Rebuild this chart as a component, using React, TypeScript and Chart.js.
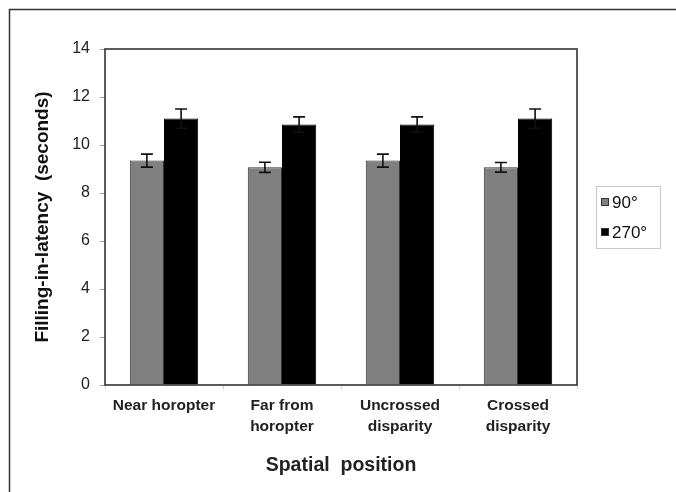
import React, { useEffect, useRef } from "react";
import { Chart, registerables } from "chart.js";

Chart.register(...registerables);

const categories: (string | string[])[] = [
  "Near horopter",
  ["Far from", "horopter"],
  ["Uncrossed", "disparity"],
  ["Crossed", "disparity"],
];
const seriesLabels = ["90°", "270°"];
const values90 = [9.35, 9.07, 9.35, 9.07];
const errors90 = [0.27, 0.21, 0.27, 0.2];
const values270 = [11.1, 10.85, 10.85, 11.1];
const errors270 = [0.4, 0.32, 0.32, 0.4];
const yTicks = [0, 2, 4, 6, 8, 10, 12, 14];

const FONT = "'Liberation Sans', Arial, Helvetica, sans-serif";

const errorBarPlugin = {
  id: "errorBars",
  afterDatasetsDraw(chart: any) {
    const ctx = chart.ctx;
    const yScale = chart.scales.y;
    chart.data.datasets.forEach((ds: any, di: number) => {
      const meta = chart.getDatasetMeta(di);
      const errs: number[] = ds.errors || [];
      meta.data.forEach((bar: any, i: number) => {
        const v = ds.data[i];
        const e = errs[i];
        const x = bar.x;
        const yT = yScale.getPixelForValue(v + e);
        const yB = yScale.getPixelForValue(v - e);
        ctx.save();
        ctx.strokeStyle = "#111";
        ctx.lineWidth = 1.6;
        ctx.beginPath();
        ctx.moveTo(x, yT);
        ctx.lineTo(x, yB);
        ctx.moveTo(x - 6, yT);
        ctx.lineTo(x + 6, yT);
        ctx.moveTo(x - 6, yB);
        ctx.lineTo(x + 6, yB);
        ctx.stroke();
        ctx.restore();
      });
    });
  },
};

const framePlugin = {
  id: "frame",
  beforeDraw(chart: any) {
    const ctx = chart.ctx;
    ctx.save();
    ctx.fillStyle = "#fff";
    ctx.fillRect(0, 0, chart.width, chart.height);
    ctx.strokeStyle = "#333";
    ctx.lineWidth = 1.5;
    ctx.beginPath();
    ctx.moveTo(9.5, chart.height);
    ctx.lineTo(9.5, 9.5);
    ctx.lineTo(chart.width, 9.5);
    ctx.stroke();
    ctx.restore();
  },
  afterDraw(chart: any) {
    const ctx = chart.ctx;
    const a = chart.chartArea;
    ctx.save();
    ctx.strokeStyle = "#333";
    ctx.lineWidth = 1.6;
    ctx.strokeRect(a.left, a.top, a.right - a.left, a.bottom - a.top);
    // legend
    const bx = 596, by = 186, bw = 64, bh = 62;
    ctx.strokeStyle = "#c8c8c8";
    ctx.lineWidth = 1;
    ctx.strokeRect(bx + 0.5, by + 0.5, bw, bh);
    ctx.font = `17px ${FONT}`;
    ctx.textBaseline = "middle";
    ctx.textAlign = "left";
    chart.data.datasets.forEach((ds: any, i: number) => {
      const cy = 202 + i * 30;
      ctx.fillStyle = ds.backgroundColor;
      ctx.fillRect(601, cy - 4, 8, 8);
      ctx.strokeStyle = "#333";
      ctx.strokeRect(601.5, cy - 3.5, 7, 7);
      ctx.fillStyle = "#111";
      ctx.fillText(ds.label, 612, cy + 1);
    });
    ctx.restore();
  },
};

export default function App() {
  const ref = useRef<HTMLCanvasElement | null>(null);
  useEffect(() => {
    if (!ref.current) return;
    const chart = new Chart(ref.current, {
      type: "bar",
      data: {
        labels: categories,
        datasets: [
          {
            label: seriesLabels[0],
            data: values90,
            errors: errors90,
            backgroundColor: "#808080",
            borderColor: "#333",
            borderWidth: 1,
          } as any,
          {
            label: seriesLabels[1],
            data: values270,
            errors: errors270,
            backgroundColor: "#000000",
            borderColor: "#000",
            borderWidth: 1,
          } as any,
        ],
      },
      options: {
        animation: false,
        responsive: false,
        devicePixelRatio: 1,
        layout: { padding: { top: 49, right: 99, left: 0, bottom: 0 } },
        datasets: { bar: { categoryPercentage: 0.58, barPercentage: 1 } },
        plugins: {
          legend: { display: false },
          tooltip: { enabled: false },
        },
        scales: {
          x: {
            afterFit(scale: any) {
              scale.height = 107;
            },
            grid: {
              drawOnChartArea: false,
              drawTicks: true,
              tickLength: 4,
              color: "#d0d0d0",
            },
            border: { display: false },
            ticks: {
              color: "#222",
              padding: 6,
              font: { family: FONT, size: 15.5, weight: "bold", lineHeight: 1.35 },
            },
            title: {
              display: true,
              text: "Spatial  position",
              color: "#222",
              font: { family: FONT, size: 19.5, weight: "bold" },
              padding: { top: 0, bottom: 15 },
            },
          },
          y: {
            min: 0,
            max: 14,
            afterFit(scale: any) {
              scale.width = 105;
            },
            afterBuildTicks(scale: any) {
              scale.ticks = yTicks.map((v) => ({ value: v }));
            },
            grid: {
              drawOnChartArea: false,
              drawTicks: true,
              tickLength: 5,
              color: "#999",
            },
            border: { display: false },
            ticks: {
              color: "#222",
              padding: 10,
              font: { family: FONT, size: 16 },
            },
            title: {
              display: true,
              text: "Filling-in-latency  (seconds)",
              color: "#111",
              font: { family: FONT, size: 19, weight: "bold" },
              padding: { top: 31, bottom: 0 },
            },
          },
        },
      } as any,
      plugins: [errorBarPlugin, framePlugin],
    });
    return () => chart.destroy();
  }, []);
  return (
    <div style={{ position: "fixed", left: 0, top: 0, width: 676, height: 492 }}>
      <canvas ref={ref} width={676} height={492} style={{ width: 676, height: 492 }} />
    </div>
  );
}
